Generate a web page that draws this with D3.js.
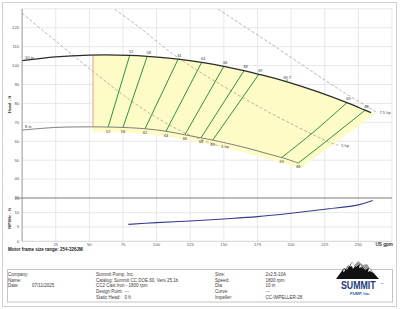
<!DOCTYPE html>
<html><head><meta charset="utf-8">
<script src="https://cdn.jsdelivr.net/npm/d3@7"></script>
<style>
body{margin:0;background:#fff}
svg{display:block}
text{font-family:"Liberation Sans",Arial,sans-serif}
</style>
</head><body>
<svg id="c" width="400" height="309"></svg>
<script>
// ---------- data ----------
const flowTicks=[25,50,75,100,125,150,175,200,225,250];
const headTicks=[30,40,50,60,70,80,90,100,110,120];
const npshTicks=[0,5,10,15];
const imp10Q=[0,25,50,80,93,116,133.5,150,165,176,197,220,241.5,255,259.4];
const imp10H=[102.6,104.6,105.5,105.4,104.9,103.4,101.7,99.6,97.3,95.4,91.4,86.1,80.4,76.4,75.1];
const imp8Q=[0,25,50,64,75,91.4,107,121,133,141.7,165,184,193,205.4];
const imp8H=[65.9,67.3,67.6,67.5,67.3,66.6,65.3,63.4,61.8,60.6,56.8,53.1,51.4,48.5];
const impLabels=["10 in","8 in"];
const effLabels=["52","58","61","64","66","68","69","69","68"];
const effTopQ=[80,93,116,133.5,150,165,176,241.5,255];
const effTopH=[105.4,104.9,103.4,101.7,99.6,97.3,95.4,80.4,76.4];
const effMidQ=[null,null,null,null,null,null,null,217,230];
const effMidH=[null,null,null,null,null,null,null,65.1,62.2];
const effBotQ=[64,75,91.4,107,121,133,141.7,193,205.4];
const effBotH=[67.5,67.3,66.6,65.3,63.4,61.8,60.6,51.4,48.5];
const bepQ=197, bepH=91.4, bepLabel="69.7";
const minFlowQ=52.7;
const hpLabels=["3 hp","5 hp","7.5 hp"];
const hp3Q=[0,52.9,80.2,98.8,121.1,145.7];
const hp3H=[127.6,96.8,81.8,73.0,64.4,57.6];
const hp5Q=[69.1,87.7,115.2,176.9,227.4,235];
const hp5H=[129.7,119.9,104.5,77.9,59.8,57.8];
const hp75Q=[145.9,184.3,236.4,263.5];
const hp75H=[129.7,111.8,87.1,75.4];
const npshQ=[79,100,125,150,175,200,225,250,260.7];
const npshV=[5.9,6.5,7.1,7.8,8.6,9.8,11.2,12.7,14.2];
const infoCol1=["Company:","Name:","Date:"];
const infoCol1Val=["","","07/11/2025"];
const infoCol2=["Summit Pump, Inc.","Catalog: Summit CC DOE.60, Vers 25.1b","CC2 Cast Iron - 1800 rpm","Design Point:","Static Head:"];
const infoCol2Val=["","","","---","0 ft"];
const infoCol3=["Size:","Speed:","Dia:","Curve:","Impeller:"];
const infoCol3Val=["2x2.5-10A","1800 rpm","10 in","---","CC-IMPELLER-28"];
const motorText="Motor frame size range: 254-326JM";

// ---------- scales ----------
const svg=d3.select("#c");
const x=d3.scaleLinear().domain([0,275]).range([22.1,392]);
const yH=d3.scaleLinear().domain([30,130]).range([198,8.8]);
const yN=d3.scaleLinear().domain([0,15]).range([241.3,198.3]);
const zip=(a,b)=>a.map((v,i)=>[v,b[i]]);
const interp=(qs,hs,q)=>{for(let i=1;i<qs.length;i++){if(q<=qs[i]){const t=(q-qs[i-1])/(qs[i]-qs[i-1]);return hs[i-1]+t*(hs[i]-hs[i-1]);}}return hs[hs.length-1];};

// frames
svg.append("rect").attr("x",2.5).attr("y",2.5).attr("width",394).attr("height",304)
  .attr("fill","none").attr("stroke","#d0d0d0").attr("stroke-width",1);
svg.append("rect").attr("x",7.5).attr("y",269.5).attr("width",385).attr("height",32.5)
  .attr("fill","none").attr("stroke","#c4c4c4").attr("stroke-width",1);

// grid
const g=svg.append("g");
const x0=x(0),x1=x(275);
flowTicks.forEach(q=>g.append("line").attr("x1",x(q)).attr("x2",x(q)).attr("y1",yH(130)).attr("y2",yN(0)).attr("stroke","#dedede").attr("stroke-width",0.7));
headTicks.filter(h=>h>30).concat([130]).forEach(h=>g.append("line").attr("x1",x0).attr("x2",x1).attr("y1",yH(h)).attr("y2",yH(h)).attr("stroke","#dedede").attr("stroke-width",0.7));
[5,10].forEach(n=>g.append("line").attr("x1",x0).attr("x2",x1).attr("y1",yN(n)).attr("y2",yN(n)).attr("stroke","#dedede").attr("stroke-width",0.7));
g.append("line").attr("x1",x1).attr("x2",x1).attr("y1",yH(130)).attr("y2",yN(0)).attr("stroke","#dedede").attr("stroke-width",0.7);
g.append("line").attr("x1",x0).attr("x2",x1).attr("y1",yN(0)).attr("y2",yN(0)).attr("stroke","#c8c8c8").attr("stroke-width",0.8);

// yellow operating region
const line=d3.line().x(d=>x(d[0])).y(d=>yH(d[1])).curve(d3.curveCatmullRom);
const topPts=[[minFlowQ,interp(imp10Q,imp10H,minFlowQ)]].concat(zip(imp10Q,imp10H).filter(d=>d[0]>minFlowQ));
const botPts=[[minFlowQ,interp(imp8Q,imp8H,minFlowQ)]].concat(zip(imp8Q,imp8H).filter(d=>d[0]>minFlowQ));
const poly=topPts.map(d=>[x(d[0]),yH(d[1])]);
const tl=poly[poly.length-1];
poly.push([tl[0]+4,tl[1]+1]);
const bl=botPts[botPts.length-1];
poly.push([x(bl[0])+4,yH(bl[1])+4]);
botPts.slice().reverse().forEach(d=>poly.push([x(d[0]),yH(d[1])+5]));
svg.append("path").attr("d",d3.line().curve(d3.curveLinear)(poly)+"Z").attr("fill","#fdfbc6").attr("stroke","none");

// min flow red line
svg.append("line").attr("x1",x(minFlowQ)).attr("x2",x(minFlowQ))
  .attr("y1",yH(interp(imp10Q,imp10H,minFlowQ))).attr("y2",yH(interp(imp8Q,imp8H,minFlowQ)))
  .attr("stroke","#e58a8a").attr("stroke-width",0.8);

// hp lines
const hpSets=[zip(hp3Q,hp3H),zip(hp5Q,hp5H),zip(hp75Q,hp75H)];
hpSets.forEach((s,i)=>{
  svg.append("path").attr("d",line(s)).attr("fill","none").attr("stroke","#b59d8f")
    .attr("stroke-width",0.8).attr("stroke-dasharray","3,2");
  const e=s[s.length-1];
  svg.append("text").attr("x",x(e[0])+3).attr("y",yH(e[1])+2).attr("font-size",4).attr("fill","#444").text(hpLabels[i]);
});

// efficiency lines
const effLine=d3.line().x(d=>x(d[0])).y(d=>yH(d[1])).curve(d3.curveNatural);
effLabels.forEach((l,i)=>{
  const pts=[[effTopQ[i],effTopH[i]]];
  if(effMidQ[i]!==null) pts.push([effMidQ[i],effMidH[i]]);
  pts.push([effBotQ[i],effBotH[i]]);
  svg.append("path").attr("d",effLine(pts)).attr("fill","none")
    .attr("stroke","#2e9440").attr("stroke-width",1);
});

// impeller curves
svg.append("path").attr("d",line(zip(imp10Q,imp10H))).attr("fill","none").attr("stroke","#2b2b2b").attr("stroke-width",1.3);
svg.append("path").attr("d",line(zip(imp8Q,imp8H))).attr("fill","none").attr("stroke","#6f6f6f").attr("stroke-width",0.9);
svg.append("text").attr("x",x(0)+3).attr("y",yH(imp10H[0])-2).attr("font-size",4).attr("fill","#333").text(impLabels[0]);
svg.append("text").attr("x",x(0)+3).attr("y",yH(imp8H[0])-2).attr("font-size",4).attr("fill","#333").text(impLabels[1]);

// eff labels
effLabels.forEach((l,i)=>{
  svg.append("text").attr("x",x(effTopQ[i])+1.5).attr("y",yH(effTopH[i])-2.5).attr("font-size",3.8).attr("text-anchor","middle").attr("fill","#333").text(l);
  svg.append("text").attr("x",x(effBotQ[i])).attr("y",yH(effBotH[i])+5.5).attr("font-size",3.8).attr("text-anchor","middle").attr("fill","#333").text(l);
});
// BEP
svg.append("line").attr("x1",x(bepQ)).attr("x2",x(bepQ)).attr("y1",yH(bepH)-2.5).attr("y2",yH(bepH)).attr("stroke","#2e9440").attr("stroke-width",0.9);
svg.append("text").attr("x",x(bepQ)).attr("y",yH(bepH)-3.2).attr("font-size",3.8).attr("text-anchor","middle").attr("fill","#333").text(bepLabel);

// NPSH
svg.append("path").attr("d",d3.line().x(d=>x(d[0])).y(d=>yN(d[1])).curve(d3.curveCatmullRom)(zip(npshQ,npshV)))
  .attr("fill","none").attr("stroke","#3a3a8e").attr("stroke-width",1.1);

// axes lines
svg.append("line").attr("x1",x0).attr("x2",x0).attr("y1",yH(130)).attr("y2",yN(0)).attr("stroke","#8a8a8a").attr("stroke-width",0.9);
svg.append("line").attr("x1",x0-3).attr("x2",x1).attr("y1",yH(30)).attr("y2",yH(30)).attr("stroke","#7a7a7a").attr("stroke-width",1);

// tick labels
headTicks.forEach(h=>svg.append("text").attr("x",x0-3).attr("y",yH(h)+1.4).attr("font-size",4.2).attr("text-anchor","end").attr("fill","#555").text(h));
npshTicks.forEach(n=>svg.append("text").attr("x",x0-3).attr("y",yN(n)+1.4).attr("font-size",4.2).attr("text-anchor","end").attr("fill","#555").text(n));
flowTicks.forEach(q=>svg.append("text").attr("x",x(q)).attr("y",yN(0)+4.5).attr("font-size",4.2).attr("text-anchor","middle").attr("fill","#555").text(q));
svg.append("text").attr("x",375.5).attr("y",yN(0)+4.6).attr("font-size",4.6).attr("font-weight","bold").attr("fill","#333").text("US gpm");
svg.append("text").attr("transform","translate(11,104.5) rotate(-90)").attr("text-anchor","middle").attr("font-size",4.4).attr("font-weight","bold").attr("fill","#333").text("Head - ft");
svg.append("text").attr("transform","translate(11,218.5) rotate(-90)").attr("text-anchor","middle").attr("font-size",4.4).attr("font-weight","bold").attr("fill","#333").text("NPSHr - ft");

// motor text
svg.append("text").attr("x",8).attr("y",251).attr("font-size",4.5).attr("font-weight","bold").attr("fill","#222").text(motorText);

// info box
const rowY=[274.3,280,285.7,291.4,297.1];
const ft=4.5, col="#3a3a3a";
const addT=(tx,ty,s)=>svg.append("text").attr("x",tx).attr("y",ty).attr("dy","0.35em").attr("font-size",ft).attr("fill",col).text(s);
infoCol1.forEach((s,i)=>{addT(8,rowY[i],s); if(infoCol1Val[i]) addT(32,rowY[i],infoCol1Val[i]);});
infoCol2.forEach((s,i)=>{addT(96,rowY[i],s); if(infoCol2Val[i]) addT(124.5,rowY[i],infoCol2Val[i]);});
infoCol3.forEach((s,i)=>{addT(215,rowY[i],s); addT(265.5,rowY[i],infoCol3Val[i]);});

// logo
const lg=svg.append("g").attr("transform","translate(336,259)");
lg.append("path").attr("d","M2,20 L12,6 L16,9 L22,2 L27,6 L31,5 L41,20 Z").attr("fill","#9a9a9a");
lg.append("path").attr("d","M0,20 L8,9 L11,11 L16,3 L20,8 L24,5 L29,11 L33,9 L43,20 Z").attr("fill","#111");
lg.append("path").attr("d","M16,3 L14,8 L16,7 L17,10 L19,7 Z M24,5 L23,9 L25,8 L27,10 Z M8,9 L7,13 L9,12 Z M33,9 L32,13 L34,12 L37,14 Z").attr("fill","#fff");
lg.append("g").attr("transform","translate(5,29.8) scale(0.8,1)").append("text").attr("x",0).attr("y",0)
  .attr("font-family","'Liberation Serif',serif").attr("font-weight","bold")
  .attr("font-size",11).attr("fill","#1d3b7c").text("SUMMIT");
lg.append("text").attr("x",44.8).attr("y",25.5).attr("font-size",2.5).attr("fill","#1d3b7c").text("™");
lg.append("text").attr("x",14).attr("y",36).attr("font-size",4).attr("font-weight","bold").attr("fill","#2a55a8").text("PUMP, Inc.");
</script>
</body></html>
